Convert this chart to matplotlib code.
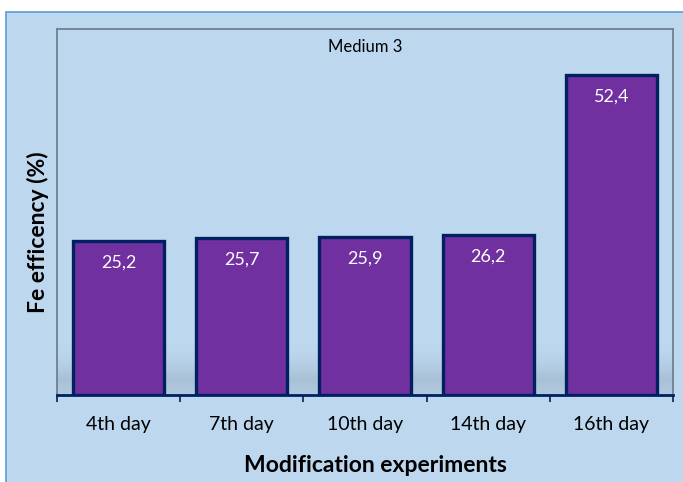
import numpy as np
import matplotlib.pyplot as plt
from matplotlib.patches import Rectangle

# data
days = ['4th day', '7th day', '10th day', '14th day', '16th day']
efficiency = [25.2, 25.7, 25.9, 26.2, 52.4]
value_labels = ['25,2', '25,7', '25,9', '26,2', '52,4']

plt.rcParams['font.family'] = ['Lato', 'DejaVu Sans']

bg = '#BDD7EE'
fig = plt.figure(figsize=(6.83, 4.82), dpi=100)
fig.patch.set_facecolor('white')

# outer chart area with blue border
fig.add_artist(Rectangle((6/683, -0.01), 1, 1.01 - 12/482, transform=fig.transFigure,
                         facecolor=bg, edgecolor='#5B9BD5', linewidth=1.2, zorder=-5))

ax = fig.add_axes([57/683, 1 - 395/482, (673 - 57)/683, (395 - 29)/482])
ax.set_zorder(2)
ax.set_facecolor(bg)

x = np.arange(len(days))

# soft shadow band behind the bars
grad = np.linspace(0, 1, 200)
alpha = np.where(grad < 0.3, 0.22 + 0.13 * grad / 0.3, 0.35 * (1 - (grad - 0.3) / 0.7) ** 2)
img = np.zeros((200, 2, 4))
img[..., 0] = 0.52
img[..., 1] = 0.60
img[..., 2] = 0.68
img[..., 3] = alpha[:, None]
ax.imshow(img, extent=[-0.5, 4.5, 0, 9], origin='lower', aspect='auto', zorder=1,
          interpolation='bilinear')

ax.bar(x, efficiency, width=0.74, color='#7030A0', edgecolor='#002060', linewidth=2.4, zorder=3)

for xi, v, lab in zip(x, efficiency, value_labels):
    ax.text(xi, v - 3.5, lab, ha='center', va='center', color='white', fontsize=13, zorder=4)

ax.set_xlim(-0.5, 4.5)
ax.set_ylim(0, 60)
ax.set_xticks(x)
ax.set_xticklabels(days, fontsize=14)
ax.set_xticks(np.arange(-0.5, 5, 1), minor=True)
ax.tick_params(axis='x', which='major', length=0, pad=15)
ax.tick_params(axis='x', which='minor', length=5, width=1.2, color='#002060', direction='out')
ax.set_yticks([])

for s in ['top', 'left', 'right']:
    ax.spines[s].set_color('#6F8090')
    ax.spines[s].set_linewidth(1.3)
ax.spines['bottom'].set_color('#002060')
ax.spines['bottom'].set_linewidth(2)
ax.spines['bottom'].set_zorder(5)

ax.text(0.5, 0.951, 'Medium 3', transform=ax.transAxes, ha='center', va='center', fontsize=12)

fig.text(37.5/683, 1 - 232/482, 'Fe efficency (%)', rotation=90, ha='center', va='center',
         fontsize=16.5, fontweight='bold')
fig.text(375/683, 1 - 465/482, 'Modification experiments', ha='center', va='center',
         fontsize=16.5, fontweight='bold')

fig.savefig('out.png', dpi=100, facecolor=fig.get_facecolor())
